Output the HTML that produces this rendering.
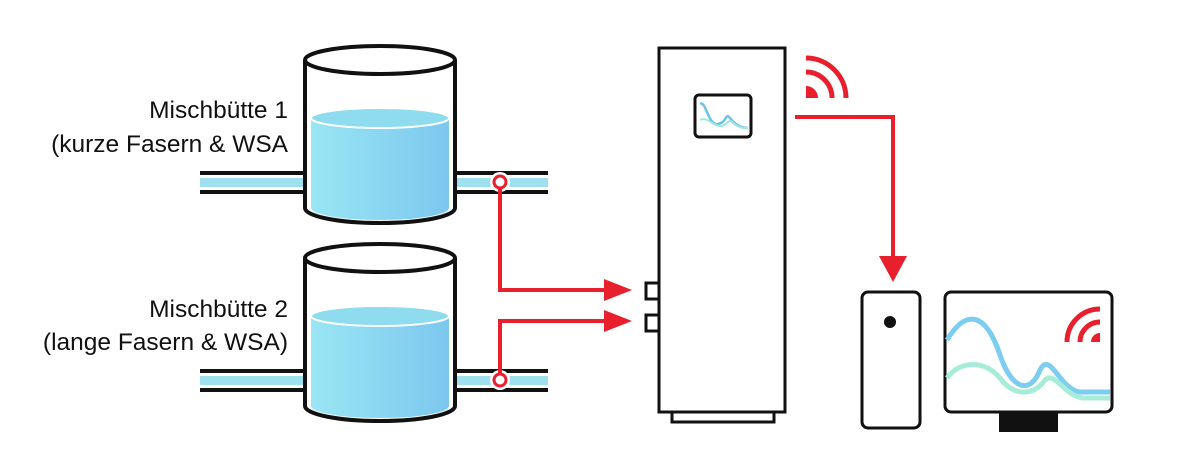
<!DOCTYPE html><html><head><style>body{margin:0;background:#fff}svg{display:block}text{font-family:"Liberation Sans",sans-serif;font-size:24.5px;fill:#111}</style></head><body>
<svg width="1177" height="467" viewBox="0 0 1177 467">
<defs><linearGradient id="g" x1="0" x2="1"><stop offset="0" stop-color="#9ae6f4"/><stop offset="1" stop-color="#7cc7ee"/></linearGradient>
<g id="tank">
<rect x="200" y="172" width="350" height="21" fill="#fff"/>
<line x1="200" y1="173" x2="305" y2="173" stroke="#111" stroke-width="4"/>
<line x1="200" y1="192" x2="305" y2="192" stroke="#111" stroke-width="4"/>
<line x1="453" y1="173" x2="548" y2="173" stroke="#111" stroke-width="4"/>
<line x1="453" y1="192" x2="548" y2="192" stroke="#111" stroke-width="4"/>
<rect x="200" y="178" width="348" height="9" fill="#9fe0ef"/>
<path d="M305 60 V208 A75 15 0 0 0 455 208 V60" fill="#fff" stroke="#111" stroke-width="4"/>
<path d="M311 118 V208 A69 12 0 0 0 449 208 V118 Z" fill="url(#g)"/>
<ellipse cx="380" cy="118" rx="69" ry="10" fill="#8fdcee" stroke="#fff" stroke-width="2"/>
<ellipse cx="380" cy="60" rx="75" ry="14" fill="#fff" stroke="#111" stroke-width="4"/>
<circle cx="500" cy="182" r="10" fill="#fff"/>
<circle cx="500" cy="182" r="6" fill="#fff" stroke="#e8202e" stroke-width="3"/>
</g></defs>
<use href="#tank"/>
<use href="#tank" y="198"/>
<text x="288" y="118" text-anchor="end">Mischbütte 1</text>
<text x="288" y="152" text-anchor="end">(kurze Fasern &amp; WSA</text>
<text x="288" y="317" text-anchor="end">Mischbütte 2</text>
<text x="288" y="350" text-anchor="end">(lange Fasern &amp; WSA)</text>
<g stroke="#e8202e" stroke-width="4" fill="none">
<path d="M500 188 V290 H608"/><path d="M500 374 V321 H608"/>
<path d="M795 117 H893 V258"/>
<path d="M806 72 A26 26 0 0 1 832 98" stroke-width="5"/><path d="M806 58 A40 40 0 0 1 846 98" stroke-width="5"/>
</g>
<path d="M806 86 A12 12 0 0 1 818 98 H806 Z" fill="#e8202e"/>
<g fill="#e8202e"><path d="M604 279 L632 290 L604 301Z"/><path d="M604 310 L632 321 L604 332Z"/><path d="M879 256 L907 256 L893 282Z"/></g>
<g fill="#fff" stroke="#111" stroke-width="3">
<rect x="672" y="412" width="102" height="10"/>
<rect x="659" y="48" width="126" height="364"/>
<rect x="646" y="283" width="13" height="16"/><rect x="646" y="315" width="13" height="16"/>
<rect x="695" y="95" width="56" height="42" rx="4"/>
<rect x="862" y="292" width="58" height="136" rx="6"/>
<rect x="945" y="292" width="167" height="120" rx="6"/>
</g>
<path d="M700 104 C706 100,708 126,718 124 S725 112,730 118 S740 128,748 128" stroke="#6ec3ec" stroke-width="2.5" fill="none"/>
<path d="M700 120 C708 116,712 126,720 126 S728 118,732 122 S740 128,748 128" stroke="#9fe8dc" stroke-width="2" fill="none"/>
<circle cx="890" cy="322" r="6" fill="#111"/>
<rect x="999" y="412" width="59" height="20" fill="#111"/>
<path d="M947 340 C965 310,985 310,1000 355 C1012 390,1030 395,1040 370 C1050 350,1060 390,1080 392 L1110 392" stroke="#7ccdf0" stroke-width="5" fill="none"/>
<path d="M947 378 C960 360,985 360,1000 378 C1015 398,1035 395,1045 380 C1055 370,1065 398,1085 398 L1110 398" stroke="#a7ecd8" stroke-width="5" fill="none"/>
<g stroke="#e8202e" stroke-width="5" fill="none"><path d="M1080 342 A20 20 0 0 1 1100 322"/><path d="M1067 342 A33 33 0 0 1 1100 309"/></g>
<path d="M1100 333 V342 H1091 A9 9 0 0 1 1100 333Z" fill="#e8202e"/>
</svg></body></html>
